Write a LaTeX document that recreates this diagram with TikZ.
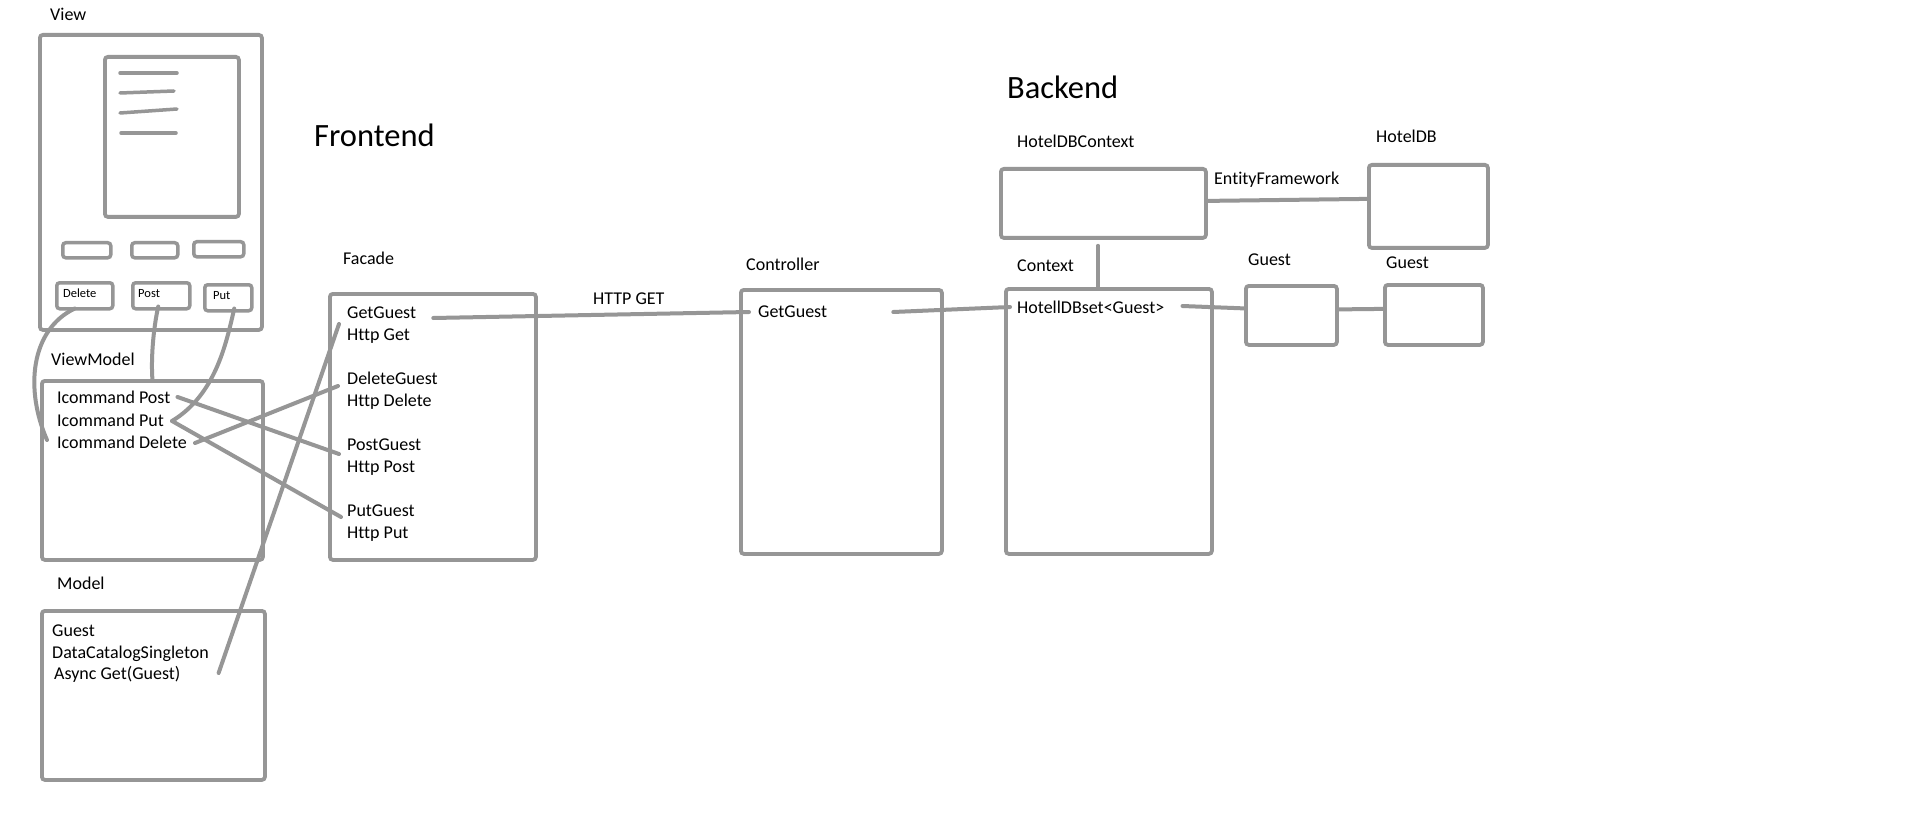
\documentclass[tikz,border=0pt]{standalone}
\usepackage{fontspec}
\setmainfont{Carlito}[Ligatures=NoCommon]
\definecolor{pencil}{RGB}{150,150,150}
\tikzset{
  box/.style={draw=pencil, line width=3.8pt, rounded corners=3pt, inner sep=0pt, anchor=north west},
  wire/.style={draw=pencil, line width=4pt, line cap=round},
  stroke/.style={draw=pencil, line width=3.5pt, line cap=round},
  lbl/.style={anchor=west, inner sep=0pt, text height=11.5pt, text depth=0pt, font=\fontsize{18}{21}\selectfont},
  title/.style={anchor=west, inner sep=0pt, text height=21pt, text depth=0pt, font=\fontsize{32.5}{38}\selectfont},
  btn/.style={anchor=west, inner sep=0pt, text height=8pt, text depth=0pt, font=\fontsize{12.5}{14}\selectfont},
}
\begin{document}
\begin{tikzpicture}[x=1pt, y=-1pt]
\useasboundingbox[fill=white] (0,0) rectangle (1909,821);

% ---------- View ----------
\node[lbl] (viewlbl) at (50,15) {View};
\node[box, minimum width=222pt, minimum height=295pt] (view) at (38,33) {};
\node[box, minimum width=134pt, minimum height=160pt] (screen) at (103,55) {};
\draw[stroke] (120,73) -- (177,73);
\draw[stroke] (120,93) -- (174,91);
\draw[stroke] (120,113) -- (177,109);
\draw[stroke] (121,133) -- (176,133);
\node[box, line width=3.5pt, minimum width=48pt, minimum height=15pt] (b1) at (61,241) {};
\node[box, line width=3.5pt, minimum width=46pt, minimum height=15pt] (b2) at (130,241) {};
\node[box, line width=3.5pt, minimum width=50pt, minimum height=15pt] (b3) at (192,240) {};
\node[box, line width=3.5pt, minimum width=56pt, minimum height=26pt] (delbtn) at (55,281) {};
\node[box, line width=3.5pt, minimum width=57pt, minimum height=26pt] (postbtn) at (131,281) {};
\node[box, line width=3.5pt, minimum width=47pt, minimum height=26pt] (putbtn) at (203,283) {};
\node[btn] (deltxt) at (63,293) {Delete};
\node[btn] (posttxt) at (138,293) {Post};
\node[btn] (puttxt) at (213,295) {Put};

% ---------- ViewModel ----------
\node[lbl] (vmlbl) at (51,360) {ViewModel};
\node[box, minimum width=221pt, minimum height=179pt] (vm) at (40,379) {};
\node[lbl] (icpost) at (57,398) {Icommand Post};
\node[lbl] (icput) at (57,421) {Icommand Put};
\node[lbl] (icdel) at (57,443) {Icommand Delete};

% ---------- Model ----------
\node[lbl] (mlbl) at (57,584) {Model};
\node[box, minimum width=223pt, minimum height=169pt] (model) at (40,609) {};
\node[lbl] (mguest) at (52,631) {Guest};
\node[lbl] (mcat) at (52,653) {DataCatalogSingleton};
\node[lbl] (masync) at (54,674) {Async Get(Guest)};

% ---------- Facade ----------
\node[title] (front) at (314,136) {Frontend};
\node[lbl] (faclbl) at (343,259) {Facade};
\node[box, minimum width=206pt, minimum height=266pt] (facade) at (328,292) {};
\node[lbl] (fget) at (347,313) {GetGuest};
\node[lbl] (fgeth) at (347,335) {Http Get};
\node[lbl] (fdel) at (347,379) {DeleteGuest};
\node[lbl] (fdelh) at (347,401) {Http Delete};
\node[lbl] (fpost) at (347,445) {PostGuest};
\node[lbl] (fposth) at (347,467) {Http Post};
\node[lbl] (fput) at (347,511) {PutGuest};
\node[lbl] (fputh) at (347,533) {Http Put};

% ---------- Backend ----------
\node[lbl] (httpget) at (593,299) {HTTP GET};
\node[lbl] (ctllbl) at (746,265) {Controller};
\node[box, minimum width=201pt, minimum height=264pt] (ctl) at (739,288) {};
\node[lbl] (ctlget) at (758,312) {GetGuest};

\node[title] (back) at (1007,88) {Backend};
\node[lbl] (hdbclbl) at (1017,142) {HotelDBContext};
\node[box, minimum width=205pt, minimum height=69pt] (hdbc) at (999,167) {};
\node[lbl] (ctxlbl) at (1017,266) {Context};
\node[box, minimum width=206pt, minimum height=265pt] (ctx) at (1004,287) {};
\node[lbl] (hdbset) at (1017,308) {HotellDBset<Guest>};
\node[lbl] (eflbl) at (1214,179) {EntityFramework};
\node[lbl] (hotdblbl) at (1376,137) {HotelDB};
\node[box, minimum width=119pt, minimum height=83pt] (hotdb) at (1367,163) {};
\node[lbl] (g1lbl) at (1248,260) {Guest};
\node[box, minimum width=91pt, minimum height=59pt] (g1) at (1244,284) {};
\node[lbl] (g2lbl) at (1386,263) {Guest};
\node[box, minimum width=98pt, minimum height=60pt] (g2) at (1383,283) {};

% ---------- connectors ----------
\coordinate (putjoin) at ([xshift=8pt]icput.east);

\draw[wire] ([xshift=-10pt,yshift=2pt]delbtn.south) .. controls (30,330) and (25,390) .. ([xshift=-10pt,yshift=3pt]icdel.west);
\draw[wire] ([xshift=-3pt,yshift=4pt]postbtn.south) .. controls (153,330) and (151,360) .. (vm.north);
\draw[wire] ([xshift=6pt,yshift=4pt]putbtn.south) .. controls (226,345) and (215,395) .. (putjoin);
\draw[wire] (putjoin) -- ([xshift=-6pt,yshift=-6pt]fput.west);
\draw[wire] ([xshift=7pt,yshift=1pt]icpost.east) -- ([xshift=-8pt,yshift=-9pt]fpost.west);
\draw[wire] ([xshift=8pt]icdel.east) -- ([xshift=-9pt,yshift=-7pt]fdel.west);
\draw[wire] ([xshift=38pt,yshift=1pt]masync.east) -- ([xshift=-8pt,yshift=-11pt]fget.west);

\draw[wire] ([xshift=17pt,yshift=-5pt]fget.east) -- ([xshift=-9pt]ctlget.west);
\draw[wire] ([xshift=66pt]ctlget.east) -- ([xshift=-7pt,yshift=1pt]hdbset.west);
\draw[wire] ([xshift=18pt,yshift=2pt]hdbset.east) -- ([yshift=7pt]g1.west);
\draw[wire] ([yshift=6pt]g1.east) -- ([yshift=6pt]g2.west);
\draw[wire] ([yshift=2.5pt]hdbc.east) -- ([yshift=7.5pt]hotdb.west);
\draw[wire] ([xshift=-5.5pt,yshift=-6pt]hdbc.south) -- ([xshift=-11pt]ctx.north);
\end{tikzpicture}
\end{document}
